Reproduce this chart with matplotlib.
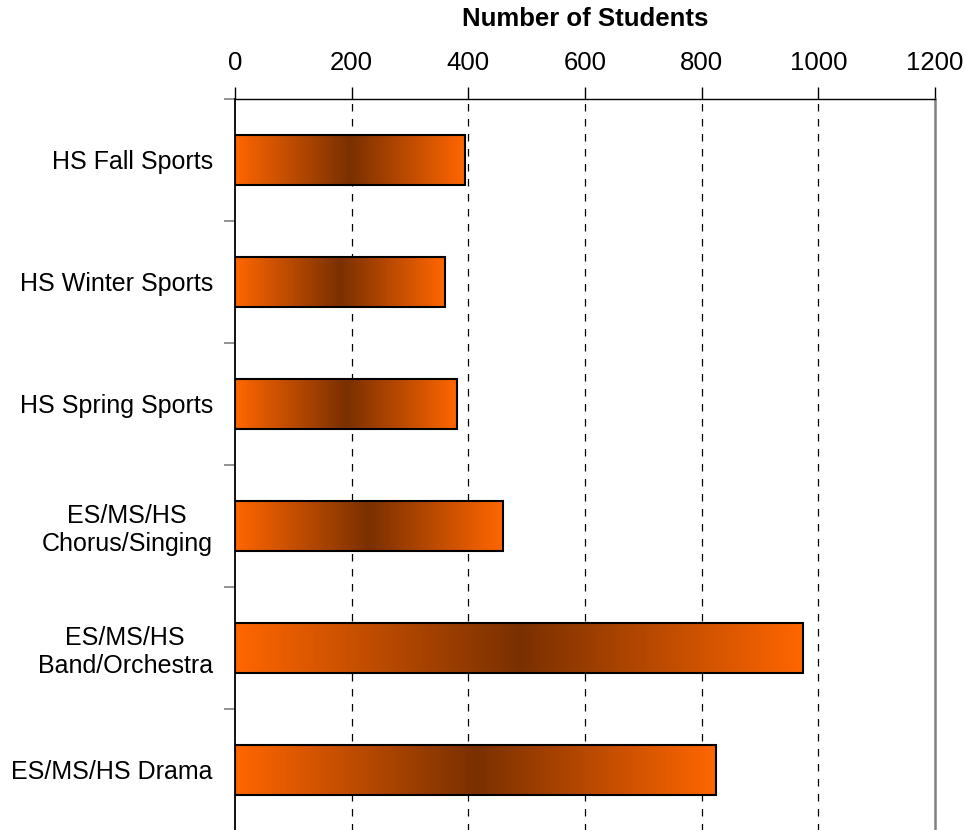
import numpy as np
import matplotlib
matplotlib.use('Agg')
import matplotlib.pyplot as plt
from matplotlib.colors import LinearSegmentedColormap
from matplotlib.patches import Rectangle

plt.rcParams['font.family'] = ['Liberation Sans', 'DejaVu Sans']

categories = ['HS Fall Sports', 'HS Winter Sports', 'HS Spring Sports',
              'ES/MS/HS\nChorus/Singing', 'ES/MS/HS\nBand/Orchestra', 'ES/MS/HS Drama']
students = [394, 360, 381, 459, 974, 825]
xticks = [0, 200, 400, 600, 800, 1000, 1200]

bar_h = 0.41
grad = LinearSegmentedColormap.from_list('og', ['#ff6600', '#7a3000', '#ff6600'])

fig = plt.figure(figsize=(9.66, 8.3), dpi=100)
ax = fig.add_axes([0.2433, -0.0012, 0.7246, 0.882])

ramp = np.linspace(0, 1, 256).reshape(1, -1)
for i, v in enumerate(students):
    ax.imshow(ramp, cmap=grad, aspect='auto', interpolation='bilinear',
              extent=(0, v, i + bar_h / 2, i - bar_h / 2), zorder=3)
    ax.add_patch(Rectangle((0, i - bar_h / 2), v, bar_h, fill=False,
                           edgecolor='black', linewidth=1.5, zorder=4))
ax.set_ylim(len(categories) - 0.5, -0.5)
ax.set_xlim(0, 1200)

for x in xticks[1:-1]:
    ax.axvline(x, color='black', linestyle=(0, (6, 6)), linewidth=0.9, zorder=1)

ax.xaxis.tick_top()
ax.xaxis.set_label_position('top')
ax.set_xticks(xticks)
ax.set_xticklabels([str(t) for t in xticks], fontsize=18.5)
ax.tick_params(axis='x', direction='out', length=9, width=1, pad=8, color='black')
ax.set_xlabel('Number of Students', fontsize=18.5, fontweight='bold', labelpad=18)

ax.set_yticks(np.arange(len(categories)))
ax.set_yticklabels(categories, fontsize=18, multialignment='center')
ax.tick_params(axis='y', length=0, pad=16)
ax.set_yticks(np.arange(-0.5, len(categories), 1), minor=True)
ax.tick_params(axis='y', which='minor', direction='out', length=8, width=1.2, color='#808080')

ax.spines['bottom'].set_visible(False)
ax.spines['top'].set_linewidth(1)
ax.spines['left'].set_linewidth(1.3)
ax.spines['right'].set_color('#808080')
ax.spines['right'].set_linewidth(1.8)

fig.savefig('out.png', dpi=100)
